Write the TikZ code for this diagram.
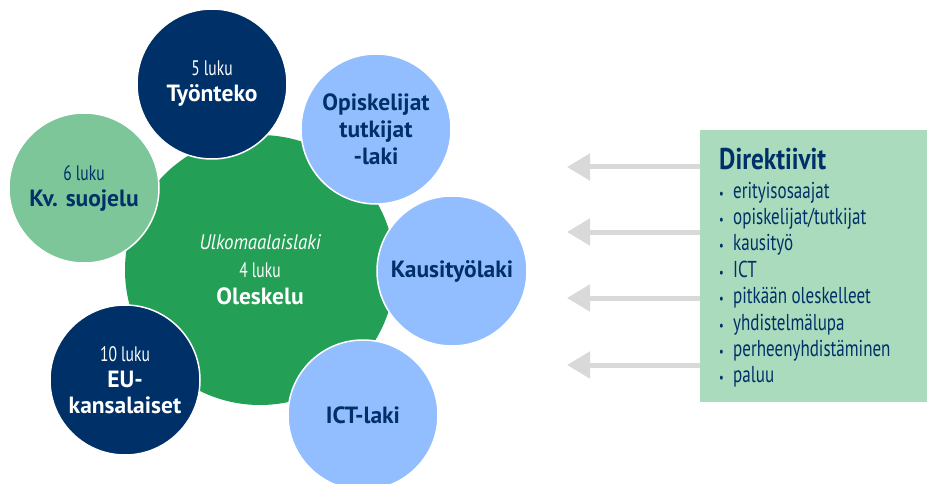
\documentclass[tikz,border=0pt]{standalone}
\usepackage{fontspec}
\setmainfont{PT Sans}
\newfontfamily\narrowfont{PT Sans}[FakeStretch=0.74]
\newfontfamily\italicfont{PT Sans Italic}[FakeStretch=0.9]
\newfontfamily\titlefont{PT Sans Bold}[FakeStretch=0.84]
\usetikzlibrary{arrows.meta, positioning}

\definecolor{navy}{HTML}{003068}
\definecolor{mgreen}{HTML}{23A055}
\definecolor{lgreen}{HTML}{7CC699}
\definecolor{lblue}{HTML}{92BEFF}
\definecolor{boxgreen}{HTML}{A9DBBC}
\definecolor{arrowgray}{HTML}{D9D9D9}

\tikzset{
  law/.style={circle, draw=white, line width=1.5pt, minimum size=150pt,
    inner sep=0pt, align=center, font=\fontsize{21}{26}\selectfont},
  chapter/.style={law, fill=navy, text=white},
  chapterlight/.style={law, fill=lgreen, text=navy},
  special/.style={law, fill=lblue, text=navy,
    font=\bfseries\fontsize{23.5}{27}\selectfont},
  item/.style={anchor=base west, inner sep=0pt, text=navy,
    font=\narrowfont\fontsize{23}{26}\selectfont},
  back/.style={line width=5pt, arrowgray,
    -{Triangle[width=26pt,length=23pt]}}
}
\newcommand{\bigname}[1]{{\fontsize{23.5}{26}\selectfont\bfseries #1}}

\begin{document}
\begin{tikzpicture}[x=1pt,y=-1pt]
\useasboundingbox (0,0) rectangle (927,484);

% The main law
\node [circle, fill=mgreen, minimum size=270pt, inner sep=0pt, align=center,
  text=white, font=\fontsize{21}{27.5}\selectfont] (ulk) at (260,270)
  {{\italicfont Ulkomaalaislaki}\\{\narrowfont 4 luku}\\\bigname{Oleskelu}};

% Chapters
\node [chapter] (tyo) at (212,84) {{\narrowfont 5 luku}\\\bigname{Työnteko}};
\node [chapterlight] (kv) at (84,188) {{\narrowfont 6 luku}\\\bigname{Kv. suojelu}};
\node [chapter] (eu) at (125,380) {{\narrowfont 10 luku}\\\bigname{EU-}\\\bigname{kansalaiset}};

% Separate laws
\node [special] (opi) at (376,129) {Opiskelijat\\tutkijat\\-laki};
\node [special] (kau) at (452,271) {Kausityölaki};
\node [special] (ict) at (363,415) {ICT-laki};

% Directives
\node [fill=boxgreen, anchor=north west, minimum width=227pt,
  minimum height=272pt, inner sep=0pt] (dir) at (700,130) {};
\node [anchor=base west, inner sep=0pt, text=navy,
  font=\titlefont\fontsize{30}{30}\selectfont] (dirtitle) at (719,170) {Direktiivit};
\foreach \t [count=\i] in {erityisosaajat, opiskelijat/tutkijat, kausityö, ICT,
  pitkään oleskelleet, yhdistelmälupa, perheenyhdistäminen, paluu}
  \node [item] (d\i) at (719,{198+26.4*(\i-1)}) {\makebox[14pt][l]{\fontsize{14}{14}\selectfont\textbullet}\t};

% Arrows back to the laws
\coordinate (a1) at (567,167);
\coordinate (a2) at (567,232);
\coordinate (a3) at (567,298);
\coordinate (a4) at (567,365);
\foreach \i in {1,...,4}
  \draw [back] (a\i -| dir.west) -- (a\i);

\end{tikzpicture}
\end{document}
